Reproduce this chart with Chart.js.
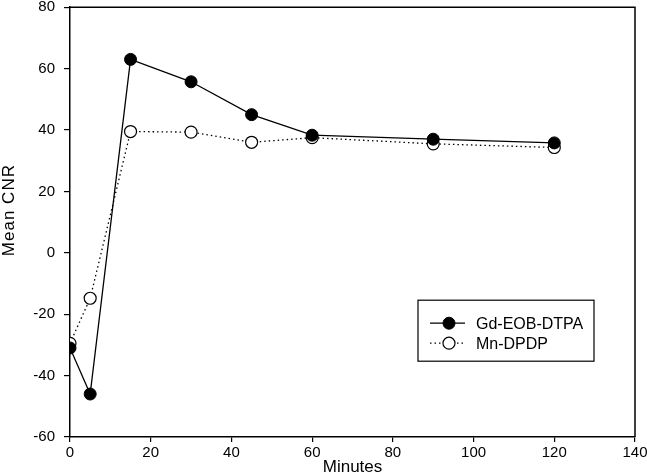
<!DOCTYPE html>
<html>
<head>
<meta charset="utf-8">
<script src="https://cdn.jsdelivr.net/npm/chart.js@4"></script>
<style>
  html, body { margin: 0; padding: 0; background: #fff; }
  #wrap { width: 647px; height: 476px; }
</style>
</head>
<body>
<div id="wrap"><canvas id="chart"></canvas></div>
<script>
// data
const minutes = [0, 5, 15, 30, 45, 60, 90, 120];
const gdEobDtpa = [-31, -46, 63, 55.7, 45, 38.3, 37, 35.8];
const mnDpdp = [-29.5, -14.8, 39.5, 39.3, 36, 37.5, 35.5, 34.3];
const seriesNames = ['Gd-EOB-DTPA', 'Mn-DPDP'];
const yTitle = 'Mean CNR';

const FONT = 'Liberation Sans, Arial, sans-serif';

const toPoints = (vals) => minutes.map((m, i) => ({ x: m, y: vals[i] }));

// frame on top and right sides, plus the y title (sits a bit above centre)
const framePlugin = {
    id: 'frame',
    afterDraw(chart) {
        const { ctx, chartArea: a } = chart;
        ctx.save();
        ctx.strokeStyle = '#000';
        ctx.lineWidth = 1.5;
        ctx.beginPath();
        ctx.moveTo(a.left, a.top);
        ctx.lineTo(a.right, a.top);
        ctx.lineTo(a.right, a.bottom);
        ctx.stroke();

        ctx.translate(9, (a.top + a.bottom) / 2 - 12);
        ctx.rotate(-Math.PI / 2);
        ctx.fillStyle = '#000';
        ctx.font = '17px ' + FONT;
        ctx.letterSpacing = '1px';
        ctx.textAlign = 'center';
        ctx.textBaseline = 'middle';
        ctx.fillText(yTitle, 0, 0);
        ctx.restore();
    }
};

// boxed legend inside the plot
const legendBox = {
    id: 'legendBox',
    afterDraw(chart) {
        const { ctx, chartArea: a } = chart;
        const left = a.left + 348, top = a.top + 293, w = 176, h = 61;
        ctx.save();
        ctx.fillStyle = '#fff';
        ctx.fillRect(left, top, w, h);
        ctx.strokeStyle = '#000';
        ctx.lineWidth = 1.2;
        ctx.strokeRect(left, top, w, h);
        chart.data.datasets.forEach((ds, i) => {
            const y = top + 23 + i * 20;
            ctx.strokeStyle = '#000';
            ctx.lineWidth = ds.borderWidth;
            ctx.setLineDash(ds.borderDash || []);
            ctx.beginPath();
            ctx.moveTo(left + 12, y);
            ctx.lineTo(left + 47, y);
            ctx.stroke();
            ctx.setLineDash([]);
            ctx.beginPath();
            ctx.arc(left + 31, y, ds.pointRadius, 0, Math.PI * 2);
            ctx.fillStyle = ds.pointBackgroundColor;
            ctx.fill();
            ctx.lineWidth = ds.pointBorderWidth;
            ctx.stroke();
            ctx.fillStyle = '#000';
            ctx.font = '16px ' + FONT;
            ctx.textBaseline = 'middle';
            ctx.fillText(ds.label, left + 58, y + 1);
        });
        ctx.restore();
    }
};

new Chart(document.getElementById('chart'), {
    type: 'line',
    data: {
        datasets: [
            {
                label: seriesNames[0],
                data: toPoints(gdEobDtpa),
                borderColor: '#000',
                borderWidth: 1.3,
                pointRadius: 6,
                pointBackgroundColor: '#000',
                pointBorderColor: '#000',
                pointBorderWidth: 1,
                tension: 0
            },
            {
                label: seriesNames[1],
                data: toPoints(mnDpdp),
                borderColor: '#000',
                borderWidth: 1.3,
                borderDash: [1.5, 3],
                pointRadius: 6,
                pointBackgroundColor: '#fff',
                pointBorderColor: '#000',
                pointBorderWidth: 1.2,
                tension: 0
            }
        ]
    },
    options: {
        responsive: true,
        maintainAspectRatio: false,
        animation: false,
        layout: { padding: { top: 5, right: 12, left: 0, bottom: 0 } },
        plugins: { legend: { display: false }, tooltip: { enabled: false } },
        scales: {
            x: {
                type: 'linear',
                min: 0, max: 140,
                afterFit(scale) { scale.height = 39; scale.paddingLeft = 0; scale.paddingRight = 0; },
                ticks: { stepSize: 20, color: '#000', font: { family: FONT, size: 15 }, padding: 2 },
                grid: { drawOnChartArea: false, drawTicks: true, tickLength: 5, color: '#000', lineWidth: 1.2 },
                border: { color: '#000', width: 1.5 },
                title: { display: true, text: 'Minutes', color: '#000', font: { family: FONT, size: 17 }, padding: { top: 0, bottom: -2 } }
            },
            y: {
                min: -60, max: 80,
                afterFit(scale) { scale.width = 70; scale.paddingTop = 0; scale.paddingBottom = 0; },
                ticks: { stepSize: 20, color: '#000', font: { family: FONT, size: 15 }, padding: 9 },
                grid: { drawOnChartArea: false, drawTicks: true, tickLength: 6, color: '#000', lineWidth: 1.2 },
                border: { color: '#000', width: 1.5 },
                title: { display: false }
            }
        }
    },
    plugins: [framePlugin, legendBox]
});
</script>
</body>
</html>
